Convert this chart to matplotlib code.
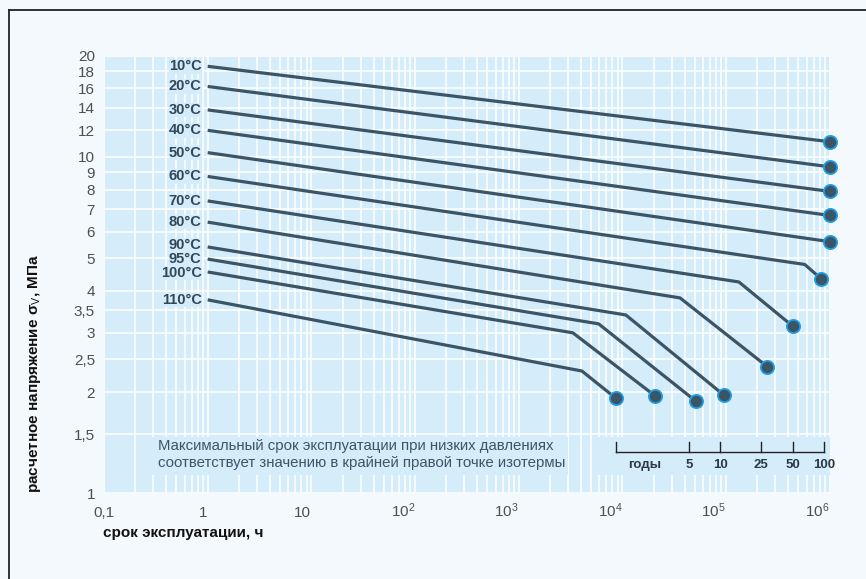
import numpy as np
import matplotlib
matplotlib.use("Agg")
import matplotlib.pyplot as plt
from matplotlib.lines import Line2D
from matplotlib.patches import Rectangle
from matplotlib.ticker import FixedLocator, LogLocator, NullLocator, NullFormatter

# Isotherms: stress (MPa) vs. service life (h)
isotherms = ["10°C", "20°C", "30°C", "40°C", "50°C", "60°C",
             "70°C", "80°C", "90°C", "95°C", "100°C", "110°C"]
start_hours = [1, 1, 1, 1, 1, 1, 1, 1, 1, 1, 1, 1]
start_sigma = [18.6, 16.2, 13.8, 12.0, 10.3, 8.75, 7.4, 6.4, 5.4, 4.97, 4.55, 3.76]
knee_hours = [np.nan, np.nan, np.nan, np.nan, np.nan,
              5.75e5, 1.33e5, 3.6e4, 1.08e4, 5.9e3, 3.33e3, 4.07e3]
knee_sigma = [np.nan, np.nan, np.nan, np.nan, np.nan,
              4.79, 4.25, 3.81, 3.39, 3.19, 3.00, 2.31]
end_hours = [1e6, 1e6, 1e6, 1e6, 1e6, 8.2e5, 4.4e5, 2.5e5, 9.5e4, 5.1e4, 2.06e4, 8.6e3]
end_sigma = [11.1, 9.35, 7.9, 6.7, 5.6, 4.35, 3.14, 2.38, 1.96, 1.88, 1.95, 1.92]

y_ticks = [1, 1.5, 2, 2.5, 3, 3.5, 4, 5, 6, 7, 8, 9, 10, 12, 14, 16, 18, 20]
y_tick_labels = ["1", "1,5", "2", "2,5", "3", "3,5", "4", "5", "6", "7", "8",
                 "9", "10", "12", "14", "16", "18", "20"]
x_ticks = [0.1, 1, 10, 1e2, 1e3, 1e4, 1e5, 1e6]
x_tick_labels = ["0,1", "1", "10", "$10^2$", "$10^3$", "$10^4$", "$10^5$", "$10^6$"]

service_years = [1, 5, 10, 25, 50, 100]
service_year_labels = ["", "5", "10", "25", "50", "100"]
HOURS_PER_YEAR = 8760

note_text = ("Максимальный срок эксплуатации при низких давлениях\n"
             "соответствует значению в крайней правой точке изотермы")

# Colours
FIG_BG = "#F4F9FD"
AX_BG = "#D5ECFA"
LINE = "#3B5567"
MARK_EDGE = "#1E9FE3"
LABEL = "#33475A"
TICK = "#4F4F4F"

plt.rcParams["font.family"] = ["Liberation Sans", "DejaVu Sans"]
plt.rcParams["mathtext.fontset"] = "custom"
plt.rcParams["mathtext.rm"] = "Liberation Sans"
plt.rcParams["mathtext.it"] = "Liberation Sans:italic"
plt.rcParams["mathtext.bf"] = "Liberation Sans:bold"

W, H = 866, 579
fig = plt.figure(figsize=(W / 100, H / 100), dpi=100, facecolor=FIG_BG)

# Outer frame (left and top edges)
fig.add_artist(Line2D([9 / W, 9 / W], [0, 1 - 10 / H], transform=fig.transFigure,
                      color="#222222", lw=1.3))
fig.add_artist(Line2D([9 / W, 1], [1 - 10 / H, 1 - 10 / H], transform=fig.transFigure,
                      color="#222222", lw=1.3))

left, right, bottom, top = 104, 829.7, 493.3, 55.7
ax = fig.add_axes([left / W, 1 - bottom / H, (right - left) / W, (bottom - top) / H])
ax.set_facecolor(AX_BG)
ax.set_xscale("log")
ax.set_yscale("log")
ax.set_xlim(0.1, 1e6)
ax.set_ylim(1, 20)
for s in ax.spines.values():
    s.set_visible(False)
ax.set_axisbelow(True)

ax.xaxis.set_major_locator(FixedLocator(x_ticks))
ax.xaxis.set_minor_locator(LogLocator(base=10, subs=np.arange(2, 10), numticks=20))
ax.xaxis.set_minor_formatter(NullFormatter())
ax.set_xticklabels(x_tick_labels)
ax.yaxis.set_major_locator(FixedLocator(y_ticks))
ax.yaxis.set_minor_locator(NullLocator())
ax.set_yticklabels(y_tick_labels)

ax.grid(which="both", axis="x", color="white", lw=1.1)
ax.grid(which="major", axis="y", color="white", lw=1.1)
ax.tick_params(which="both", length=0)
ax.tick_params(axis="y", pad=6.5, labelcolor=TICK, labelsize=11)
ax.tick_params(axis="x", pad=17, labelcolor=TICK, labelsize=11)
for i, lab in enumerate(ax.get_xticklabels()):
    lab.set_va("baseline")
    lab.set_ha("center" if i == 0 else "right")

# Panels that mask the grid behind the note and the years scale
ax.add_patch(Rectangle((0.27, 1.135), 3.0e3 - 0.27, 1.47 - 1.135, facecolor=AX_BG,
                       edgecolor="none", zorder=1))
ax.add_patch(Rectangle((5.5e3, 1.135), 1e6 - 5.5e3, 1.47 - 1.135, facecolor=AX_BG,
                       edgecolor="none", zorder=1))

# Isotherms
label_nudge = {"90°C": 1.5, "100°C": -1.0}
for name, h0, s0, hk, sk, h1, s1 in zip(isotherms, start_hours, start_sigma,
                                        knee_hours, knee_sigma, end_hours, end_sigma):
    xs = [h0, h1] if np.isnan(hk) else [h0, hk, h1]
    ys = [s0, s1] if np.isnan(sk) else [s0, sk, s1]
    ax.plot(xs, ys, color=LINE, lw=2.3, solid_capstyle="butt", zorder=3)
    ax.plot([h1], [s1], marker="o", ms=9.5, mfc=LINE, mec=MARK_EDGE, mew=1.3,
            zorder=4, clip_on=False)
    ax.annotate(name, (h0, s0), xytext=(-6, label_nudge.get(name, 0)),
                textcoords="offset pixels", ha="right", va="center",
                fontsize=10.5, fontweight="bold", color=LABEL, zorder=5,
                bbox=dict(boxstyle="square,pad=0.02", fc=AX_BG, ec="none"))

# Note
ax.text(0.33, 1.305, note_text, ha="left", va="center", fontsize=10.8,
        color="#3E5566", linespacing=1.2, zorder=5)

# Service-life scale in years
yr_hours = [y * HOURS_PER_YEAR for y in service_years]
ax.plot([yr_hours[0], yr_hours[-1]], [1.33, 1.33], color="#222222", lw=1.0, zorder=5)
for h, lab in zip(yr_hours, service_year_labels):
    ax.plot([h, h], [1.33, 1.42], color="#222222", lw=1.0, zorder=5)
    if lab:
        ax.text(h, 1.215, lab, ha="center", va="center", fontsize=9.5,
                fontweight="bold", color="#2B3A47", zorder=5)
ax.text(1.65e4, 1.215, "годы", ha="center", va="center", fontsize=9.5,
        fontweight="bold", color="#2B3A47", zorder=5)

# Axis titles
fig.text(35 / W, 1 - 493 / H, "расчетное напряжение σ$_\\mathrm{V}$, МПа",
         rotation=90, ha="center", va="bottom", fontsize=11, fontweight="bold",
         color="#111111")
fig.text(103 / W, 1 - 533 / H, "срок эксплуатации, ч", ha="left", va="center",
         fontsize=11, fontweight="bold", color="#111111")

fig.savefig("out.png", dpi=100, facecolor=FIG_BG)
